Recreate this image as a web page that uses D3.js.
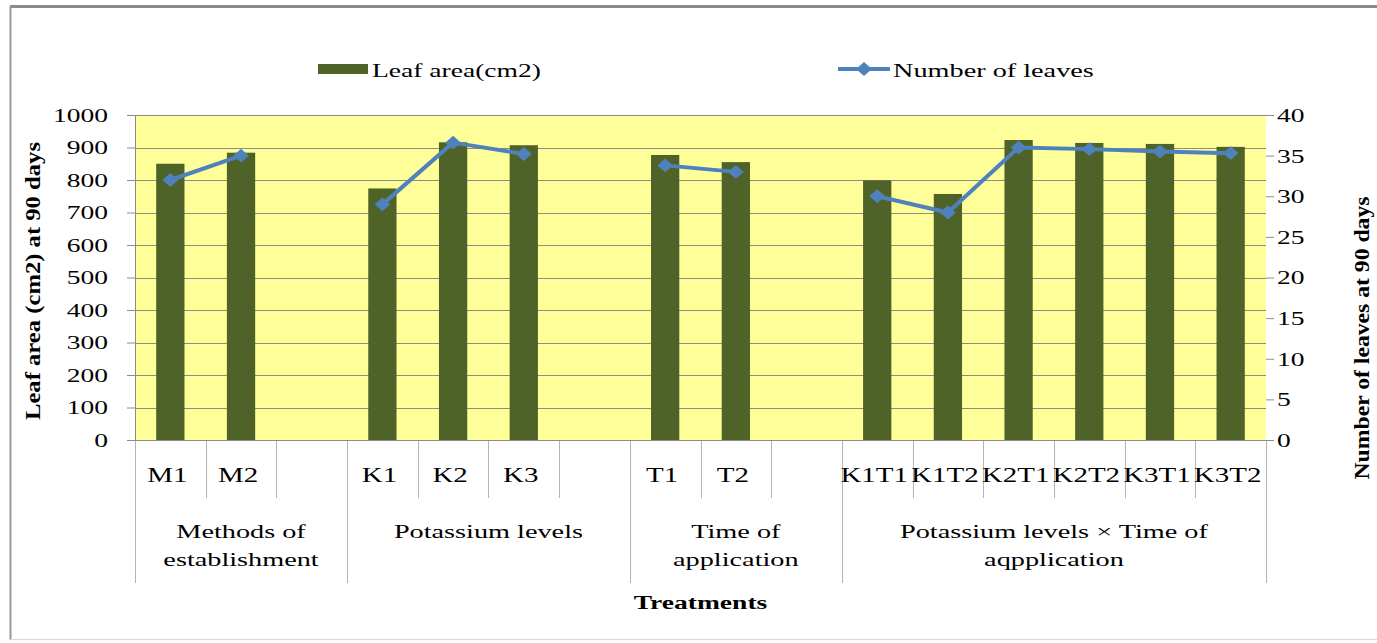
<!DOCTYPE html>
<html>
<head>
<meta charset="utf-8">
<script src="https://cdn.jsdelivr.net/npm/d3@7"></script>
<style>
  body { margin: 0; background: #fff; }
  text { font-family: "Liberation Serif", "Times New Roman", serif; fill: #000; }
</style>
</head>
<body>
<svg id="chart"></svg>
<script>
// slots on the category axis, "" = empty slot between groups
const slotLabels = ["M1", "M2", "", "K1", "K2", "K3", "", "T1", "T2", "", "K1T1", "K1T2", "K2T1", "K2T2", "K3T1", "K3T2"];
const leafArea = [850, 884, null, 774, 916, 907, null, 877, 855, null, 799, 757, 923, 914, 911, 902];
const leafCount = [32, 35, null, 29, 36.6, 35.2, null, 33.8, 33.0, null, 30, 28, 36, 35.8, 35.5, 35.3];
const groupLabels = [["Methods of", "establishment"], ["Potassium levels"], ["Time of", "application"], ["Potassium levels \u00d7 Time of", "aqpplication"]];
const groupSizes = [3, 4, 3, 6];
const leftTicks = d3.range(0, 1001, 100);
const rightTicks = d3.range(0, 41, 5);

const width = 1377;
const height = 643;
const plot = { left: 135, right: 1266, top: 115, bottom: 440 };
const sx = 1.45; // horizontal stretch of the horizontal texts

const svg = d3.select("#chart")
  .attr("width", width)
  .attr("height", height);

// frame
svg.append("line").attr("x1", 10).attr("x2", width).attr("y1", 6.5).attr("y2", 6.5)
  .attr("stroke", "#8a8a8a").attr("stroke-width", 3);
svg.append("line").attr("x1", 10.5).attr("x2", 10.5).attr("y1", 6).attr("y2", 640)
  .attr("stroke", "#9a9a9a").attr("stroke-width", 2);
svg.append("line").attr("x1", 10).attr("x2", width).attr("y1", 639.5).attr("y2", 639.5)
  .attr("stroke", "#d8d8d8").attr("stroke-width", 1);

const slot = d3.scaleBand()
  .domain(d3.range(slotLabels.length))
  .range([plot.left, plot.right]);

const x = d3.scaleBand()
  .domain(d3.range(slotLabels.length))
  .range([plot.left, plot.right])
  .paddingInner(0.6)
  .paddingOuter(0.3);

const yLeft = d3.scaleLinear().domain([0, 1000]).range([plot.bottom, plot.top]);
const yRight = d3.scaleLinear().domain([0, 40]).range([plot.bottom, plot.top]);

// plot background
svg.append("rect")
  .attr("x", plot.left).attr("y", plot.top)
  .attr("width", plot.right - plot.left).attr("height", plot.bottom - plot.top)
  .attr("fill", "#ffff99");

// gridlines
svg.append("g")
  .selectAll("line")
  .data(leftTicks)
  .join("line")
  .attr("x1", plot.left).attr("x2", plot.right)
  .attr("y1", d => Math.round(yLeft(d)) + 0.5).attr("y2", d => Math.round(yLeft(d)) + 0.5)
  .attr("stroke", "#8c8c8c");

// left axis
const leftAxis = svg.append("g")
  .attr("transform", `translate(${plot.left},0)`)
  .call(d3.axisLeft(yLeft).tickValues(leftTicks).tickFormat(d3.format("d")).tickSize(8).tickPadding(0));
leftAxis.select(".domain").attr("stroke", "#8c8c8c").attr("d", `M0.5,${plot.top}V${plot.bottom}`);
leftAxis.selectAll(".tick line").attr("stroke", "#8c8c8c");
leftAxis.selectAll(".tick text")
  .attr("x", null).attr("dy", "0.34em")
  .attr("transform", `translate(-27,0) scale(${sx},1)`)
  .style("font-size", "19px")
  .style("font-family", "Liberation Serif")
  .attr("fill", "#000");

// right axis
const rightAxis = svg.append("g")
  .attr("transform", `translate(${plot.right},0)`)
  .call(d3.axisRight(yRight).tickValues(rightTicks).tickFormat(d3.format("d")).tickSize(8).tickPadding(0));
rightAxis.select(".domain").remove();
rightAxis.selectAll(".tick line").attr("stroke", "#8c8c8c");
rightAxis.selectAll(".tick text")
  .attr("x", null).attr("dy", "0.34em")
  .attr("transform", `translate(11,0) scale(${sx},1)`)
  .style("font-size", "19px")
  .style("font-family", "Liberation Serif")
  .attr("fill", "#000");

// bars
svg.append("g")
  .selectAll("rect")
  .data(leafArea.map((v, i) => ({ i, v })).filter(d => d.v != null))
  .join("rect")
  .attr("x", d => x(d.i))
  .attr("width", x.bandwidth())
  .attr("y", d => yLeft(d.v))
  .attr("height", d => yLeft(0) - yLeft(d.v))
  .attr("fill", "#4f6228");

// category axis boxes
const cat = svg.append("g").attr("stroke", "#b4b4b4").attr("stroke-width", 1);
let start = 0;
const groupStarts = groupSizes.map(s => { const a = start; start += s; return a; });
cat.selectAll(".short")
  .data(d3.range(slotLabels.length + 1))
  .join("line")
  .attr("x1", i => Math.round(i < slotLabels.length ? slot(i) : plot.right) + 0.5)
  .attr("x2", i => Math.round(i < slotLabels.length ? slot(i) : plot.right) + 0.5)
  .attr("y1", plot.bottom)
  .attr("y2", i => (groupStarts.includes(i) || i === slotLabels.length) ? 583 : 498);

svg.append("line")
  .attr("x1", plot.left - 8).attr("x2", plot.right + 8)
  .attr("y1", plot.bottom + 0.5).attr("y2", plot.bottom + 0.5)
  .attr("stroke", "#8c8c8c");

svg.append("g")
  .selectAll("text")
  .data(slotLabels.map((t, i) => ({ t, i })).filter(d => d.t))
  .join("text")
  .attr("transform", d => `translate(${slot(d.i) + slot.bandwidth() / 2 - 3},482) scale(${sx},1)`)
  .attr("text-anchor", "middle")
  .style("font-size", "20px")
  .text(d => d.t);

const gl = svg.append("g")
  .selectAll("text")
  .data(groupLabels.map((lines, k) => ({
    lines,
    cx: (slot(groupStarts[k]) + slot(groupStarts[k]) + slot.step() * groupSizes[k]) / 2
  })))
  .join("text")
  .attr("transform", d => `translate(${d.cx},538) scale(${sx},1)`)
  .attr("text-anchor", "middle")
  .style("font-size", "19.5px");
gl.selectAll("tspan")
  .data(d => d.lines)
  .join("tspan")
  .attr("x", 0)
  .attr("y", (d, j) => j * 28)
  .text(d => d);

// line series
const line = d3.line()
  .defined(d => d.v != null)
  .x(d => x(d.i) + x.bandwidth() / 2)
  .y(d => yRight(d.v));
const pts = leafCount.map((v, i) => ({ i, v }));
svg.append("path")
  .datum(pts)
  .attr("d", line)
  .attr("fill", "none")
  .attr("stroke", "#4f81bd")
  .attr("stroke-width", 4)
  .attr("stroke-linejoin", "round");

const diamond = d3.symbol().type(d3.symbolSquare).size(95);
svg.append("g")
  .selectAll("path")
  .data(pts.filter(d => d.v != null))
  .join("path")
  .attr("d", diamond)
  .attr("transform", d => `translate(${x(d.i) + x.bandwidth() / 2},${yRight(d.v)}) scale(1.15,1) rotate(45)`)
  .attr("fill", "#4f81bd");

// legend
const legend = svg.append("g");
legend.append("rect").attr("x", 318).attr("y", 64).attr("width", 50).attr("height", 10).attr("fill", "#4f6228");
legend.append("text")
  .attr("transform", `translate(372,77) scale(${sx},1)`)
  .style("font-size", "19px")
  .text("Leaf area(cm2)");
legend.append("line").attr("x1", 838).attr("x2", 890).attr("y1", 69).attr("y2", 69)
  .attr("stroke", "#4f81bd").attr("stroke-width", 4);
legend.append("path").attr("d", diamond)
  .attr("transform", "translate(864,69) scale(1.15,1) rotate(45)")
  .attr("fill", "#4f81bd");
legend.append("text")
  .attr("transform", `translate(893,77) scale(${sx},1)`)
  .style("font-size", "19.5px")
  .text("Number of leaves");

// axis titles
svg.append("text")
  .attr("transform", `translate(${(plot.left + plot.right) / 2},609) scale(${sx},1)`)
  .attr("text-anchor", "middle")
  .style("font-size", "19px")
  .style("font-weight", "bold")
  .text("Treatments");

svg.append("text")
  .attr("transform", "translate(40,281) rotate(-90)")
  .attr("text-anchor", "middle")
  .attr("textLength", 278)
  .attr("lengthAdjust", "spacingAndGlyphs")
  .style("font-size", "20px")
  .style("font-weight", "bold")
  .text("Leaf area (cm2) at 90 days");

svg.append("text")
  .attr("transform", "translate(1369,338) rotate(-90)")
  .attr("text-anchor", "middle")
  .attr("textLength", 283)
  .attr("lengthAdjust", "spacingAndGlyphs")
  .style("font-size", "20px")
  .style("font-weight", "bold")
  .text("Number of leaves at 90 days");
</script>
</body>
</html>
